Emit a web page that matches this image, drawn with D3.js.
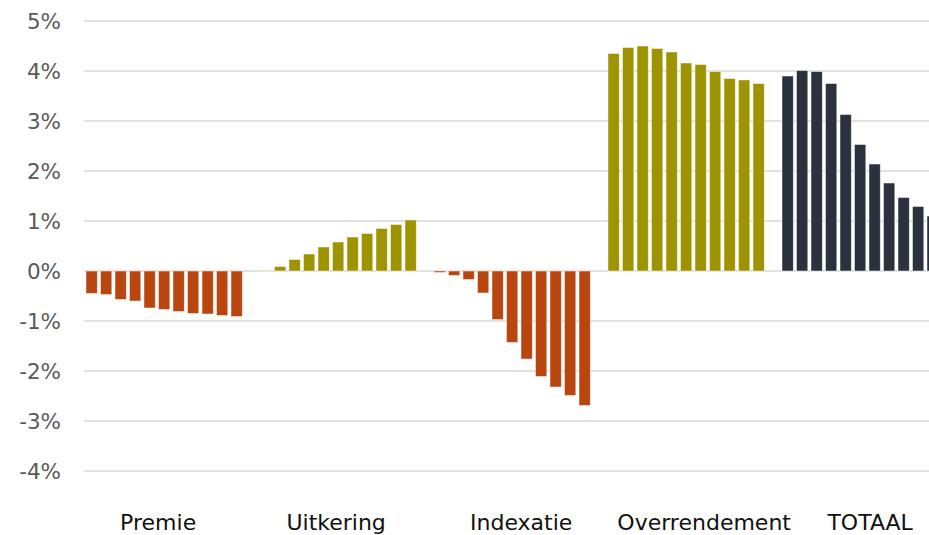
<!DOCTYPE html>
<html>
<head>
<meta charset="utf-8">
<script src="https://cdn.jsdelivr.net/npm/d3@7"></script>
<style>
  body { margin: 0; background: #fff; }
  svg { display: block; font-family: "DejaVu Sans", Verdana, sans-serif; }
</style>
</head>
<body>
<div id="chart"></div>
<script>
// categories and values (percent), 11 bars per category
const categories = ["Premie", "Uitkering", "Indexatie", "Overrendement", "TOTAAL"];
const premie = [-0.45, -0.47, -0.57, -0.60, -0.74, -0.77, -0.81, -0.85, -0.86, -0.89, -0.91];
const uitkering = [0.01, 0.09, 0.23, 0.34, 0.48, 0.58, 0.68, 0.75, 0.85, 0.93, 1.02];
const indexatie = [-0.03, -0.09, -0.17, -0.44, -0.97, -1.43, -1.76, -2.11, -2.32, -2.49, -2.69];
const overrendement = [4.35, 4.47, 4.50, 4.45, 4.38, 4.16, 4.13, 3.99, 3.85, 3.82, 3.75];
const totaal = [3.90, 4.01, 3.99, 3.75, 3.13, 2.53, 2.14, 1.76, 1.47, 1.29, 1.10];
const yTicks = [-4, -3, -2, -1, 0, 1, 2, 3, 4, 5];

const series = [premie, uitkering, indexatie, overrendement, totaal];
const colors = ["#b8460e", "#9e9300", "#b8460e", "#9e9300", "#2b323d"];
// label nudges so text sits like the original
const labelShift = [-6, -2, 9, 18, 10];

const W = 929, H = 535;
const slotsPerGroup = 12;

const svg = d3.select("#chart").append("svg")
  .attr("width", W)
  .attr("height", H);

const x = d3.scaleBand()
  .domain(d3.range(categories.length * slotsPerGroup))
  .range([84.4, 954.4])
  .paddingInner(0.22)
  .paddingOuter(0.11);

const y = d3.scaleLinear()
  .domain([-4, 5])
  .range([471, 21]);

// gridlines
svg.append("g")
  .selectAll("line")
  .data(yTicks)
  .join("line")
  .attr("x1", 84)
  .attr("x2", W)
  .attr("y1", d => y(d))
  .attr("y2", d => y(d))
  .attr("stroke", "#d9d9d9")
  .attr("stroke-width", 1.5);

// y tick labels
svg.append("g")
  .selectAll("text")
  .data(yTicks)
  .join("text")
  .attr("x", 61)
  .attr("y", d => y(d))
  .attr("dy", "0.36em")
  .attr("text-anchor", "end")
  .attr("fill", "#595959")
  .style("font-size", "21.5px")
  .text(d => d + "%");

// bars
const bars = [];
series.forEach((vals, g) => {
  vals.forEach((v, i) => bars.push({ slot: g * slotsPerGroup + i, v: v, color: colors[g] }));
});

svg.append("g")
  .selectAll("rect")
  .data(bars)
  .join("rect")
  .attr("x", d => x(d.slot))
  .attr("width", x.bandwidth())
  .attr("y", d => y(Math.max(0, d.v)))
  .attr("height", d => Math.abs(y(d.v) - y(0)))
  .attr("fill", d => d.color)
  .attr("stroke", "rgba(255,255,255,0.6)")
  .attr("stroke-width", 0.8);

// category labels
svg.append("g")
  .selectAll("text")
  .data(categories)
  .join("text")
  .attr("x", (d, g) => (x(g * slotsPerGroup) + x(g * slotsPerGroup + 10) + x.bandwidth()) / 2 + labelShift[g])
  .attr("y", 530)
  .attr("text-anchor", "middle")
  .attr("fill", "#111")
  .style("font-size", "22px")
  .text(d => d);
</script>
</body>
</html>
